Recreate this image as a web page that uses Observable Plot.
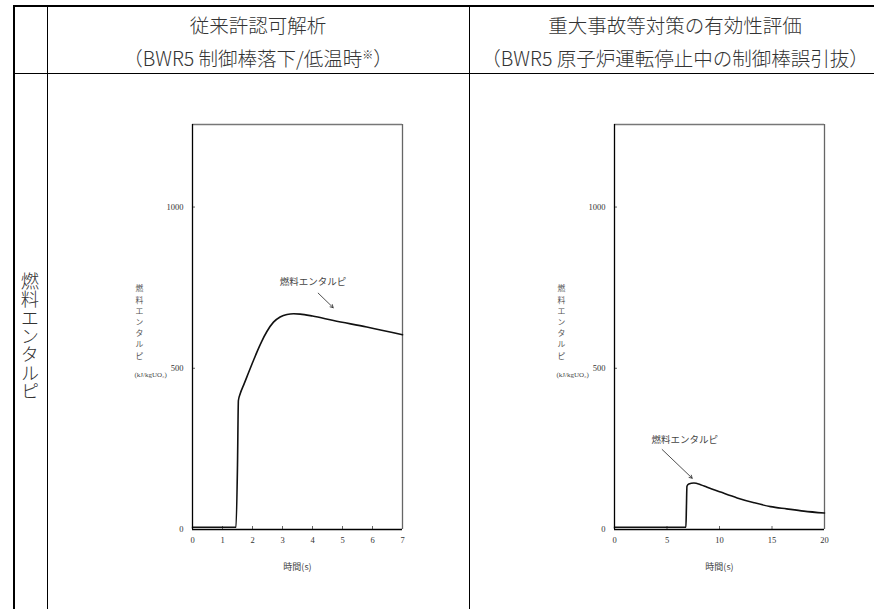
<!DOCTYPE html>
<html>
<head>
<meta charset="utf-8">
<script src="https://cdn.jsdelivr.net/npm/d3@7"></script>
<script src="https://cdn.jsdelivr.net/npm/@observablehq/plot@0.6"></script>
<style>
  body { margin: 0; background: #fff; }
  #page { position: relative; width: 874px; height: 609px; overflow: hidden; background: #fff;
          font-family: "Noto Sans CJK JP", sans-serif; }
  .h { position: absolute; background: #000; height: 1.5px; }
  .v { position: absolute; background: #000; width: 1.5px; }
  .hdr { position: absolute; text-align: center; font-size: 19.5px; font-weight: 300; color: #333; line-height: 1; white-space: nowrap; }
  .hdr sup { font-size: 11px; vertical-align: 7px; }
  .rowlabel { position: absolute; left: 20.5px; top: 272px; font-size: 18.3px; font-weight: 300; color: #333; line-height: 1;
              writing-mode: vertical-rl; text-orientation: upright; }
  .chart { position: absolute; top: 100px; }
</style>
</head>
<body>
<div id="page">
  <div class="h" style="left:13px; top:5px; width:870px;"></div>
  <div class="h" style="left:13px; top:72.5px; width:870px;"></div>
  <div class="v" style="left:13px; top:5px; height:610px;"></div>
  <div class="v" style="left:46.5px; top:5px; height:610px;"></div>
  <div class="v" style="left:468.5px; top:5px; height:610px;"></div>
  <div class="hdr" id="h1a" style="left:47px; width:422px; top:15px;"></div>
  <div class="hdr" id="h1b" style="left:47px; width:422px; top:48px;"></div>
  <div class="hdr" id="h2a" style="left:469px; width:412px; top:15px;"></div>
  <div class="hdr" id="h2b" style="left:469px; width:412px; top:48px;"></div>
  <div class="rowlabel" id="rowlabel"></div>
  <div class="chart" id="left" style="left:100px;"></div>
  <div class="chart" id="right" style="left:522px;"></div>
</div>
<script>
// ---- text ----
const header1Title = "従来許認可解析";
const header1Sub = "（BWR5 制御棒落下/低温時";
const header1Mark = "※";
const header2Title = "重大事故等対策の有効性評価";
const header2Sub = "（BWR5 原子炉運転停止中の制御棒誤引抜）";
const rowLabel = "燃料エンタルピ";
const yLabel = "燃料エンタルピ";
const yUnit = "(kJ/kgUO₂)";
const xLabel = "時間(s)";
const noteLabel = "燃料エンタルピ";

// ---- ticks / domains ----
const yTicks = [0, 500, 1000];
const yMax = 1256;
const leftXTicks = [0, 1, 2, 3, 4, 5, 6, 7];
const rightXTicks = [0, 5, 10, 15, 20];
const leftXMax = 7;
const rightXMax = 20;

// ---- series ----
const leftTime     = [0, 1.45, 1.5, 1.53, 1.59, 1.7, 1.85, 2.0, 2.15, 2.3, 2.48, 2.7, 2.92, 3.15, 3.37, 3.59, 4.0, 4.7, 5.81, 7.0];
const leftEnthalpy = [7, 7,    200, 400,  421,  447, 482,  517, 551,  582, 614,  643, 659,  667,  669,  668,  662, 648, 628,  604];

const rightTime     = [0, 6.8, 6.85, 6.9, 7.07, 7.56, 8.2, 8.83, 10.1, 11.68, 13.3, 14.86, 16.4, 18.03, 20];
const rightEnthalpy = [7, 7,   70,   134, 141,  144,  139, 131,  116,  98,    83,   71,    64,   57,    51];

// ---- annotations (data coordinates) ----
const leftNote  = {x: 4.02, y: 767};
const leftArrow = {x1: 4.19, y1: 733, x2: 4.69, y2: 688};
const rightNote  = {x: 6.7, y: 278};
const rightArrow = {x1: 4.54, y1: 248, x2: 7.4, y2: 159};

document.getElementById("h1a").textContent = header1Title;
document.getElementById("h1b").innerHTML = header1Sub + "<sup>" + header1Mark + "</sup>）";
document.getElementById("h2a").textContent = header2Title;
document.getElementById("h2b").textContent = header2Sub;
document.getElementById("rowlabel").textContent = rowLabel;

function makeChart(time, value, xMax, xTicks, note, arrow) {
  const data = time.map((t, i) => ({t, v: value[i]}));
  const jp = "Noto Sans CJK JP";
  const chars = yLabel.split("");
  const step = 11.2;
  const labelMarks = chars.map((c, i) =>
    Plot.text([c], {frameAnchor: "left", dx: -57, dy: -4.5 + (i - (chars.length - 1) / 2) * step,
      text: d => d, fontFamily: jp, fontSize: 7.8, fill: "#555"}));
  return Plot.plot({
    width: 320, height: 500,
    marginLeft: 92, marginRight: 18, marginTop: 24, marginBottom: 71,
    x: {domain: [0, xMax]},
    y: {domain: [0, yMax]},
    style: {fontFamily: "Liberation Serif, serif", fontSize: "8.5px", color: "#333", background: "transparent"},
    marks: [
      Plot.ruleY([yMax], {stroke: "#777", strokeWidth: 1.6}),
      Plot.ruleX([xMax], {stroke: "#666", strokeWidth: 1.3}),
      Plot.axisX({ticks: xTicks, tickSize: 3, dy: -3, tickFormat: () => "", stroke: "#666", label: null}),
      Plot.axisY({ticks: yTicks, tickSize: 3, dx: 3, tickFormat: () => "", stroke: "#666", label: null}),
      Plot.axisX({ticks: xTicks, tickSize: 0, tickPadding: 7, tickFormat: d => String(d), fill: "#333", label: null}),
      Plot.axisY({ticks: yTicks, tickSize: 0, tickPadding: 9, tickFormat: d => String(d), fill: "#333", label: null}),
      Plot.line(data, {x: "t", y: "v", stroke: "#111", strokeWidth: 1.6, curve: "monotone-x"}),
      Plot.ruleX([0], {stroke: "#000", strokeWidth: 1.3}),
      Plot.ruleY([0], {stroke: "#000", strokeWidth: 1.3}),
      Plot.text([note], {x: "x", y: "y", text: () => noteLabel, fontFamily: jp, fontSize: 9.5, fill: "#444"}),
      Plot.arrow([arrow], {x1: "x1", y1: "y1", x2: "x2", y2: "y2", stroke: "#222", strokeWidth: 0.8, headLength: 6}),
      ...labelMarks,
      Plot.text([yUnit], {frameAnchor: "left", dx: -58, dy: 47.5, text: d => d, fontSize: 7, fill: "#444"}),
      Plot.text([xLabel], {frameAnchor: "bottom", dy: 40, text: d => d, fontFamily: jp, fontSize: 9, fill: "#444"})
    ]
  });
}

document.getElementById("left").appendChild(
  makeChart(leftTime, leftEnthalpy, leftXMax, leftXTicks, leftNote, leftArrow));
document.getElementById("right").appendChild(
  makeChart(rightTime, rightEnthalpy, rightXMax, rightXTicks, rightNote, rightArrow));
</script>
</body>
</html>
